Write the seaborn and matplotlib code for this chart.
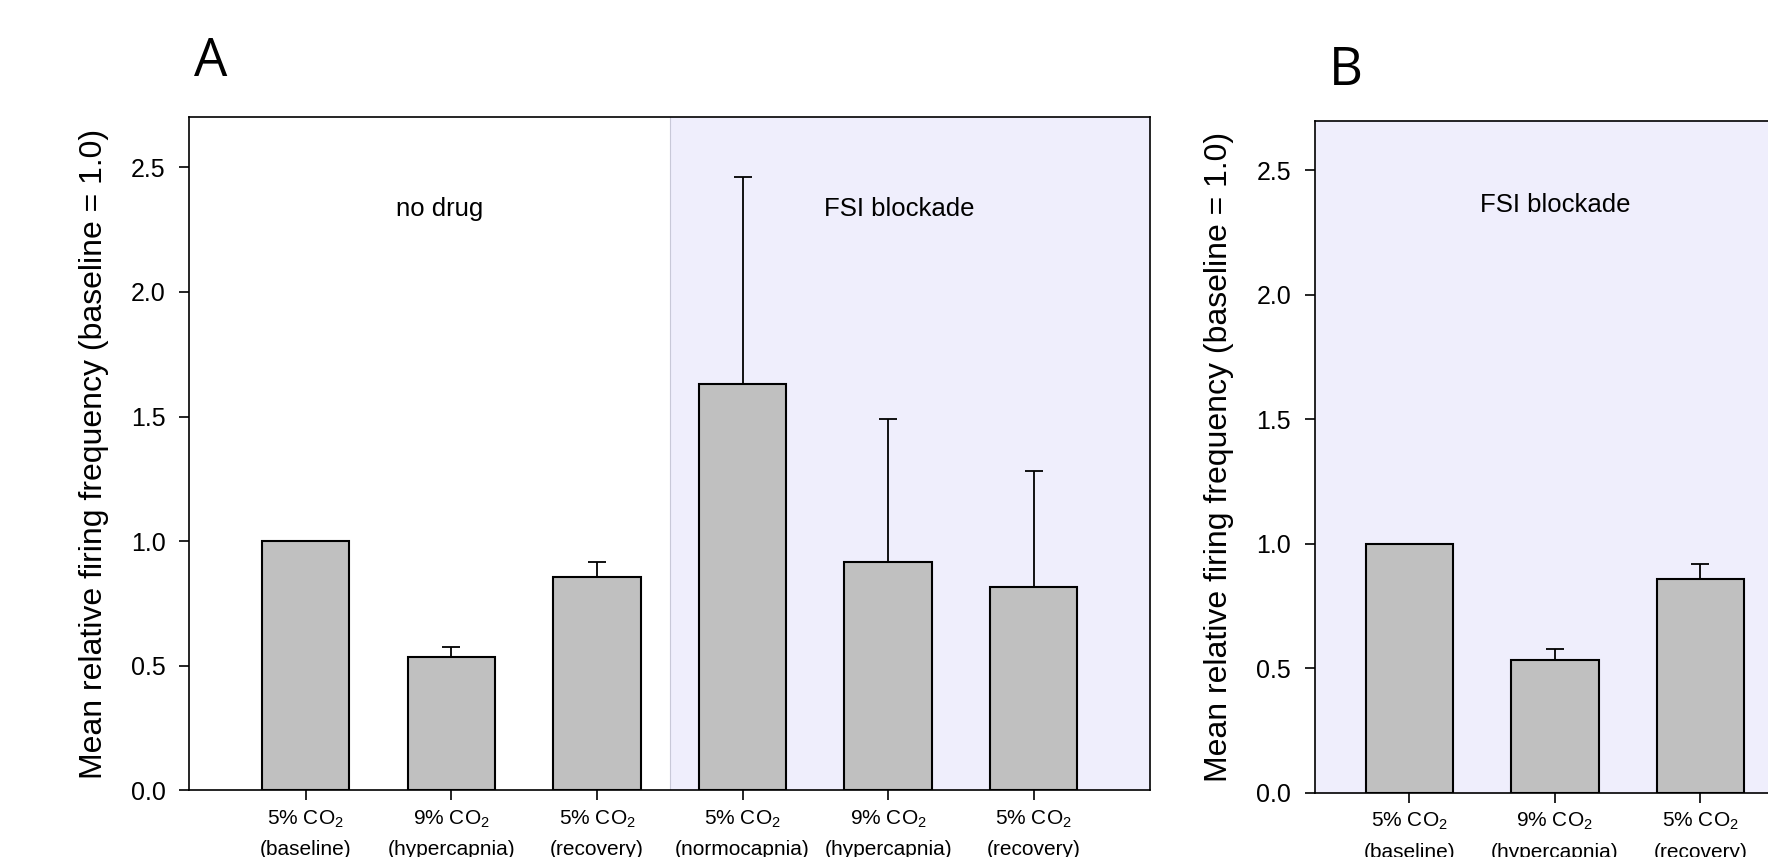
import matplotlib
matplotlib.use("Agg")
import matplotlib.pyplot as plt
import numpy as np
import pandas as pd
import seaborn as sns

# panel A: no drug (first three) then FSI blockade (last three)
conditions_a = ["nd_baseline", "nd_hyper", "nd_recovery", "fsi_normo", "fsi_hyper", "fsi_recovery"]
means_a = [1.0, 0.535, 0.855, 1.632, 0.918, 0.818]
sem_a = [0.0, 0.040, 0.062, 0.828, 0.572, 0.462]
labels_a = [
    "5% CO$_2$\n(baseline)",
    "9% CO$_2$\n(hypercapnia)",
    "5% CO$_2$\n(recovery)",
    "5% CO$_2$\n(normocapnia)",
    "9% CO$_2$\n(hypercapnia)",
    "5% CO$_2$\n(recovery)",
]

# panel B: FSI blockade
conditions_b = ["baseline", "hypercapnia", "recovery"]
means_b = [1.0, 0.535, 0.857]
sem_b = [0.0, 0.041, 0.063]
labels_b = [
    "5% CO$_2$\n(baseline)",
    "9% CO$_2$\n(hypercapnia)",
    "5% CO$_2$\n(recovery)",
]

yticks = [0.0, 0.5, 1.0, 1.5, 2.0, 2.5]
ylabel = "Mean relative firing frequency (baseline = 1.0)"

BAR = "#c0c0c0"
LAVENDER = "#efeefc"

sns.set_style("ticks")
plt.rcParams["font.family"] = ["Liberation Sans", "DejaVu Sans"]
plt.rcParams["mathtext.fontset"] = "custom"
plt.rcParams["mathtext.rm"] = "Liberation Sans"
plt.rcParams["mathtext.it"] = "Liberation Sans"
for key in ["text.color", "axes.labelcolor", "xtick.color", "ytick.color", "axes.edgecolor"]:
    plt.rcParams[key] = "black"

fig = plt.figure(figsize=(17.68, 8.57), dpi=100)
ax_a = fig.add_axes([0.1071, 0.0776, 0.5434, 0.7855])
ax_b = fig.add_axes([0.7436, 0.0750, 0.2717, 0.7843])


def draw_panel(ax, conditions, means, sem, labels, xlim):
    df = pd.DataFrame({"condition": conditions, "mean": means})
    sns.barplot(data=df, x="condition", y="mean", order=conditions, color=BAR,
                saturation=1, edgecolor="black", linewidth=1.5, width=0.6,
                errorbar=None, ax=ax, zorder=2)
    x = np.arange(len(conditions))
    ax.errorbar(x, means, yerr=[np.zeros(len(sem)), sem], fmt="none",
                ecolor="black", elinewidth=1.3, capsize=6.5, capthick=1.3, zorder=3)
    ax.set_xlim(*xlim)
    ax.set_ylim(0, 2.7)
    ax.set_yticks(yticks)
    ax.set_yticklabels([f"{t:.1f}" for t in yticks])
    ax.set_xticks(x)
    ax.set_xticklabels(labels, fontsize=15, linespacing=1.7)
    ax.set_xlabel("")
    ax.set_ylabel(ylabel, fontsize=23, labelpad=16)
    ax.tick_params(axis="y", labelsize=18, length=7, width=1.2, direction="out", pad=10)
    ax.tick_params(axis="x", length=7, width=1.2, direction="out", pad=6)
    for s in ax.spines.values():
        s.set_linewidth(1.2)
        s.set_color("black")


draw_panel(ax_a, conditions_a, means_a, sem_a, labels_a, (-0.8, 5.8))
ax_a.axvspan(2.5, 5.8, color=LAVENDER, zorder=0, lw=0)
ax_a.axvline(2.5, color="#c8c8d8", lw=0.8, zorder=1)
ax_a.text(0.92, 2.332, "no drug", ha="center", va="center", fontsize=18.5)
ax_a.text(4.08, 2.332, "FSI blockade", ha="center", va="center", fontsize=18.5)

draw_panel(ax_b, conditions_b, means_b, sem_b, labels_b, (-0.65, 2.65))
ax_b.set_facecolor(LAVENDER)
ax_b.text(1.0, 2.359, "FSI blockade", ha="center", va="center", fontsize=18.5)

fig.text(0.119, 0.927, "A", fontsize=38, family=["Open Sans", "DejaVu Sans"],
         ha="center", va="center")
fig.text(0.761, 0.917, "B", fontsize=38, family=["Open Sans", "DejaVu Sans"],
         ha="center", va="center")

fig.savefig("out.png", dpi=100)
plt.close(fig)
